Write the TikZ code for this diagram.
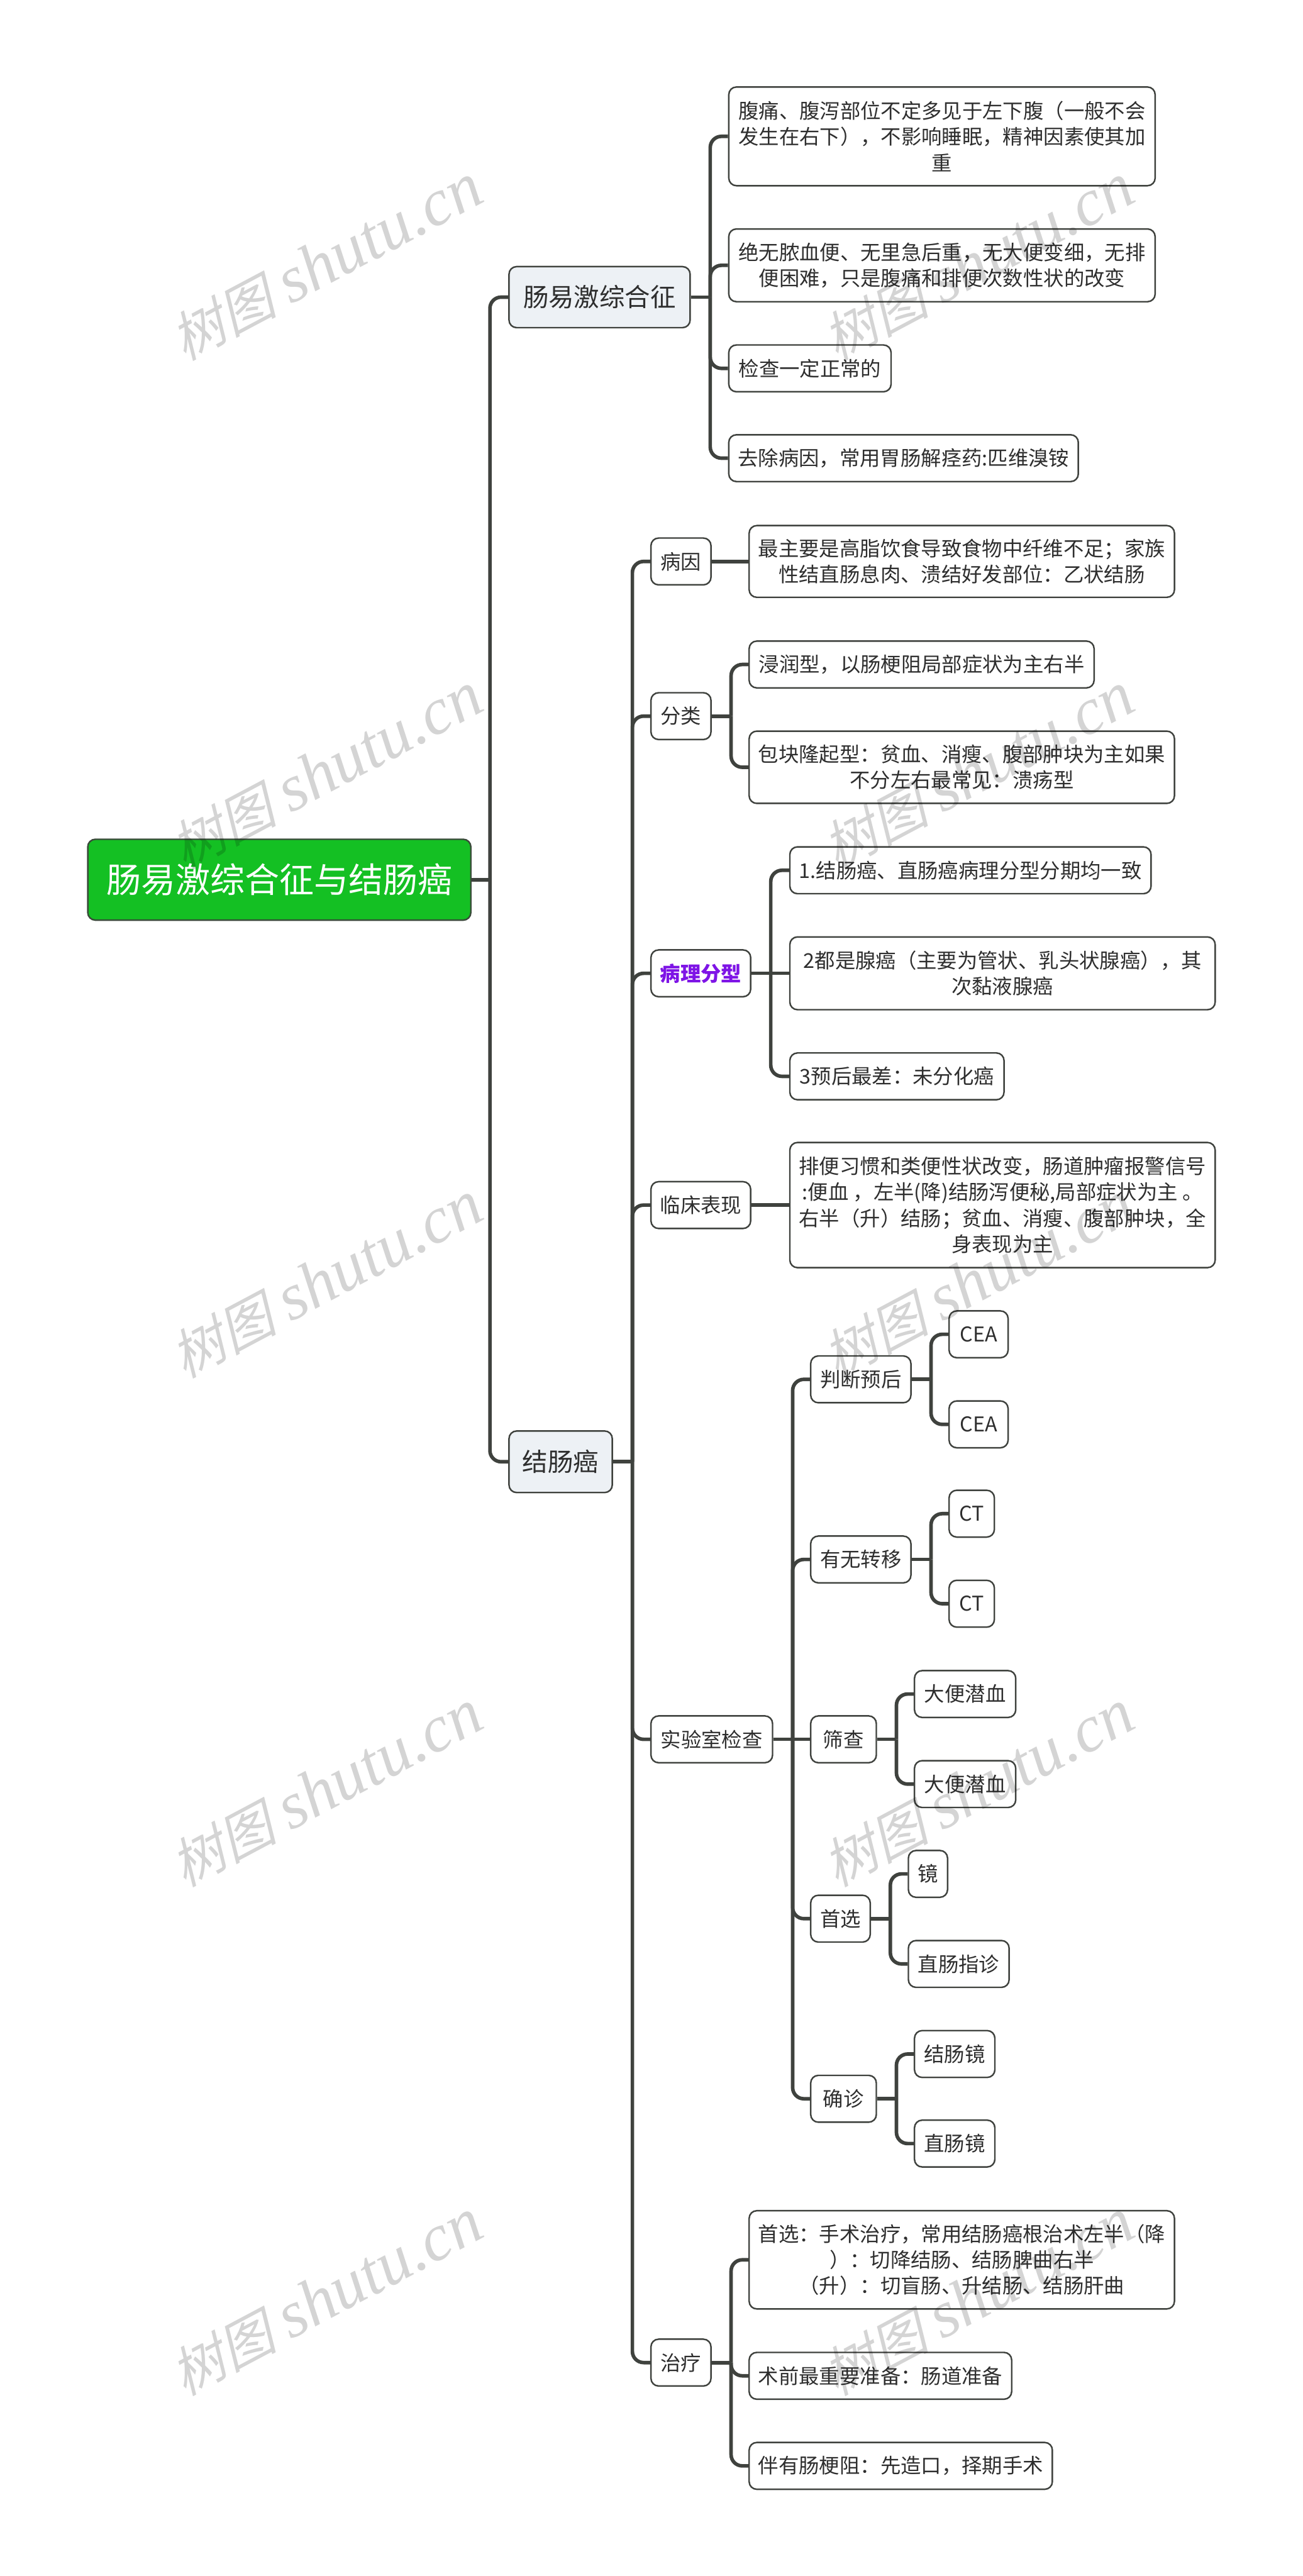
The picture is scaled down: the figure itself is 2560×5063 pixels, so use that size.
\documentclass[tikz,border=0pt]{standalone}
\usepackage{fontspec}
\setmainfont{Noto Sans CJK SC}
\newfontfamily\wmcjk[FakeSlant=0.25]{Noto Sans CJK SC}
\newfontfamily\wmlat{Liberation Serif}
\definecolor{linecol}{HTML}{3F423E}
\definecolor{bordercol}{HTML}{3F423E}
\definecolor{textcol}{HTML}{2E2E2E}
\definecolor{lonefill}{HTML}{EDF1F5}
\definecolor{rootgreen}{HTML}{14C023}
\definecolor{rootborder}{HTML}{3A4A3A}
\definecolor{purpletext}{HTML}{7E14E6}
\newcommand{\stub}[1]{\draw[conn] (#1.east) -- ++(38,0);}
\newcommand{\kid}[2]{\draw[elbow] (#1.east) ++(38,0) |- (#2.west);}
\newcommand{\straight}[2]{\draw[conn] (#1.east) -- (#2.west);}
\begin{document}
\begin{tikzpicture}[x=1pt,y=-1pt,
  conn/.style={draw=linecol, line width=7pt},
  elbow/.style={conn, rounded corners=22pt},
  leaf/.style={draw=bordercol, line width=3pt, rounded corners=15pt, fill=white,
    text=textcol, align=center, inner sep=0pt, anchor=west,
    font=\fontsize{40}{51}\selectfont},
  mainbox/.style={leaf, fill=lonefill, font=\fontsize{50}{60}\selectfont},
  rootbox/.style={leaf, fill=rootgreen, draw=rootborder, text=white,
    font=\fontsize{68}{80}\selectfont},
  purplebox/.style={leaf, text=purpletext, font=\fontsize{40}{51}\selectfont\bfseries},
  wm/.style={text=black, text opacity=0.17, inner sep=0pt, rotate=28}
]
\useasboundingbox (0,0) rectangle (2560,5063);
\fill[white] (0,0) rectangle (2560,5063);

% root and main topics
\node[rootbox, minimum width=753pt, minimum height=159pt] (root) at (171,1729) {肠易激综合征与结肠癌};
\node[mainbox, minimum width=356pt, minimum height=120pt] (ibs) at (999,584) {肠易激综合征};
\node[mainbox, minimum width=203pt, minimum height=121pt] (crc) at (999,2873) {结肠癌};

% IBS children
\node[leaf, minimum width=838pt, minimum height=194pt] (a1) at (1431,268) {腹痛、腹泻部位不定多见于左下腹（一般不会\\发生在右下），不影响睡眠，精神因素使其加\\重};
\node[leaf, minimum width=838pt, minimum height=143pt] (a2) at (1431,521.5) {绝无脓血便、无里急后重，无大便变细，无排\\便困难，只是腹痛和排便次数性状的改变};
\node[leaf, minimum width=319pt, minimum height=92pt] (a3) at (1431,724) {检查一定正常的};
\node[leaf, minimum width=687pt, minimum height=92pt] (a4) at (1431,900.5) {去除病因，常用胃肠解痉药:匹维溴铵};

% colon cancer children
\node[leaf, minimum width=118pt, minimum height=92pt] (b1) at (1278,1103.5) {病因};
\node[leaf, minimum width=118pt, minimum height=92pt] (b2) at (1278,1407.5) {分类};
\node[purplebox, minimum width=196pt, minimum height=92pt] (b3) at (1278,1913) {病理分型};
\node[leaf, minimum width=196pt, minimum height=92pt] (b4) at (1278,2368.5) {临床表现};
\node[leaf, minimum width=239pt, minimum height=92pt] (b5) at (1278,3418.5) {实验室检查};
\node[leaf, minimum width=118pt, minimum height=92pt] (b6) at (1278,4643.5) {治疗};

\node[leaf, minimum width=836pt, minimum height=141pt] (b1a) at (1471,1103.5) {最主要是高脂饮食导致食物中纤维不足；家族\\性结直肠息肉、溃结好发部位：乙状结肠};

\node[leaf, minimum width=678pt, minimum height=92pt] (b2a) at (1471,1306) {浸润型，以肠梗阻局部症状为主右半};
\node[leaf, minimum width=836pt, minimum height=142pt] (b2b) at (1471,1508) {包块隆起型：贫血、消瘦、腹部肿块为主如果\\不分左右最常见：溃疡型};

\node[leaf, minimum width=710pt, minimum height=92pt] (b3a) at (1551,1710.5) {1.结肠癌、直肠癌病理分型分期均一致};
\node[leaf, minimum width=836pt, minimum height=143pt] (b3b) at (1551,1913) {2都是腺癌（主要为管状、乳头状腺癌），其\\次黏液腺癌};
\node[leaf, minimum width=421pt, minimum height=92pt] (b3c) at (1551,2115.5) {3预后最差：未分化癌};

\node[leaf, minimum width=836pt, minimum height=246pt] (b4a) at (1551,2368.5) {排便习惯和类便性状改变，肠道肿瘤报警信号\\:便血 ，左半(降)结肠泻便秘,局部症状为主 。\\右半（升）结肠；贫血、消瘦、腹部肿块，全\\身表现为主};

\node[leaf, minimum width=197pt, minimum height=92pt] (c1) at (1592,2711) {判断预后};
\node[leaf, minimum width=197pt, minimum height=92pt] (c2) at (1592,3065) {有无转移};
\node[leaf, minimum width=129pt, minimum height=92pt] (c3) at (1592,3418.5) {筛查};
\node[leaf, minimum width=117pt, minimum height=92pt] (c4) at (1592,3771) {首选};
\node[leaf, minimum width=129pt, minimum height=92pt] (c5) at (1592,4125) {确诊};

\node[leaf, minimum width=116pt, minimum height=92pt] (c1a) at (1864,2622.5) {CEA};
\node[leaf, minimum width=116pt, minimum height=92pt] (c1b) at (1864,2799.5) {CEA};
\node[leaf, minimum width=89pt, minimum height=92pt] (c2a) at (1864,2975) {CT};
\node[leaf, minimum width=89pt, minimum height=92pt] (c2b) at (1864,3152) {CT};
\node[leaf, minimum width=199pt, minimum height=92pt] (c3a) at (1796,3329.5) {大便潜血};
\node[leaf, minimum width=199pt, minimum height=92pt] (c3b) at (1796,3506.5) {大便潜血};
\node[leaf, minimum width=77pt, minimum height=92pt] (c4a) at (1784,3683) {镜};
\node[leaf, minimum width=198pt, minimum height=92pt] (c4b) at (1784,3860) {直肠指诊};
\node[leaf, minimum width=158pt, minimum height=92pt] (c5a) at (1796,4037) {结肠镜};
\node[leaf, minimum width=158pt, minimum height=92pt] (c5b) at (1796,4213) {直肠镜};

\node[leaf, minimum width=836pt, minimum height=193pt] (b6a) at (1471,4441.5) {首选：手术治疗，常用结肠癌根治术左半（降\\）：切降结肠、结肠脾曲右半\\（升）：切盲肠、升结肠、结肠肝曲};
\node[leaf, minimum width=516pt, minimum height=92pt] (b6b) at (1471,4669.5) {术前最重要准备：肠道准备};
\node[leaf, minimum width=596pt, minimum height=92pt] (b6c) at (1471,4846.5) {伴有肠梗阻：先造口，择期手术};

% connectors
\draw[conn] (root.east) -- ++(36,0);
\draw[elbow] (root.east) ++(36,0) |- (ibs.west);
\draw[elbow] (root.east) ++(36,0) |- (crc.west);

\stub{ibs}
\kid{ibs}{a1} \kid{ibs}{a2} \kid{ibs}{a3} \kid{ibs}{a4}

\stub{crc}
\kid{crc}{b1} \kid{crc}{b2} \kid{crc}{b3} \kid{crc}{b4} \kid{crc}{b5} \kid{crc}{b6}

\straight{b1}{b1a}
\stub{b2} \kid{b2}{b2a} \kid{b2}{b2b}
\stub{b3} \kid{b3}{b3a} \straight{b3}{b3b} \kid{b3}{b3c}
\straight{b4}{b4a}
\stub{b5} \kid{b5}{c1} \kid{b5}{c2} \straight{b5}{c3} \kid{b5}{c4} \kid{b5}{c5}
\stub{c1} \kid{c1}{c1a} \kid{c1}{c1b}
\stub{c2} \kid{c2}{c2a} \kid{c2}{c2b}
\stub{c3} \kid{c3}{c3a} \kid{c3}{c3b}
\stub{c4} \kid{c4}{c4a} \kid{c4}{c4b}
\stub{c5} \kid{c5}{c5a} \kid{c5}{c5b}
\stub{b6} \kid{b6}{b6a} \kid{b6}{b6b} \kid{b6}{b6c}

% watermarks
\foreach \yy [count=\i] in {516,1516,2516,3516,4516}{
  \foreach \xx [count=\j] in {641,1922}{
    \node[wm] (wm-\i-\j) at (\xx,\yy) {{\wmcjk\fontsize{105}{105}\selectfont 树图}\hspace{26pt}{\wmlat\itshape\fontsize{130}{130}\selectfont shutu.cn}};
  }
}
\end{tikzpicture}
\end{document}
